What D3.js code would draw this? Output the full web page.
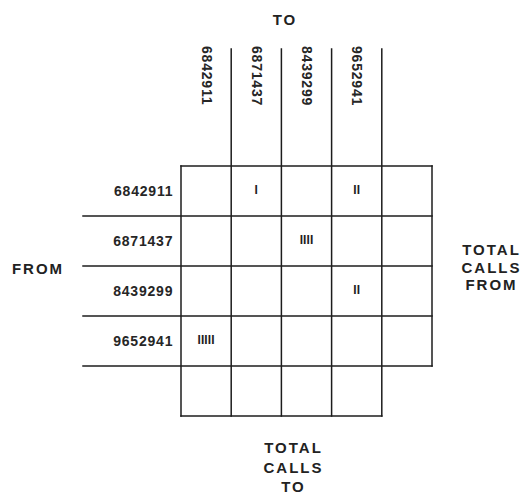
<!DOCTYPE html>
<html>
<head>
<meta charset="utf-8">
<script src="https://cdn.jsdelivr.net/npm/d3@7"></script>
<style>
  html, body { margin: 0; padding: 0; background: #fff; }
  svg { display: block; }
  text { font-family: "Liberation Sans", Arial, sans-serif; }
</style>
</head>
<body>
<div id="chart"></div>
<script>
// ---- data ----
const phones = ["6842911", "6871437", "8439299", "9652941"];
const callFrom = ["6842911", "6842911", "6871437", "8439299", "9652941"];
const callTo   = ["6871437", "9652941", "8439299", "9652941", "6842911"];
const callCount = [1, 2, 4, 2, 5];
const totalKey = "TOTAL";
const topTitle = "TO";
const leftTitle = "FROM";
const rightTitle = ["TOTAL", "CALLS", "FROM"];
const bottomTitle = ["TOTAL", "CALLS", "TO"];

// ---- layout ----
const W = 524, H = 494;
const svg = d3.select("#chart").append("svg").attr("width", W).attr("height", H);

const x = d3.scaleBand().domain([...phones, totalKey]).range([181, 432]);
const y = d3.scaleBand().domain([...phones, totalKey]).range([166, 416]);
const bw = x.bandwidth(), bh = y.bandwidth();

const stroke = "#1c1c1c", sw = 1.5;
const g = svg.append("g");
const line = (x1, y1, x2, y2) => g.append("line")
  .attr("x1", x1).attr("y1", y1).attr("x2", x2).attr("y2", y2)
  .attr("stroke", stroke).attr("stroke-width", sw).attr("stroke-linecap", "square");

const xLeft = x(phones[0]);
const xRight = x(totalKey) + bw;
const xPhonesEnd = x(totalKey);
const yTop = y(phones[0]);
const yBottom = y(totalKey) + bh;
const yPhonesEnd = y(totalKey);

// horizontal lines
line(xLeft, yTop, xRight, yTop);
phones.slice(1).forEach(p => line(83, y(p), xRight, y(p)));
line(83, yPhonesEnd, xRight, yPhonesEnd);
line(xLeft, yBottom, xPhonesEnd, yBottom);

// vertical lines
line(xLeft, yTop, xLeft, yBottom);
phones.slice(1).forEach(p => line(x(p), 49, x(p), yBottom));
line(xPhonesEnd, 49, xPhonesEnd, yBottom);
line(xRight, yTop, xRight, yPhonesEnd);

// row labels
const labelFont = 14, labelSpacing = 0.8, labelColor = "#262626";
svg.append("g").selectAll("text").data(phones).join("text")
  .attr("x", xLeft - 8.5 + labelSpacing)
  .attr("y", d => y(d) + bh / 2 + 5)
  .attr("text-anchor", "end")
  .attr("font-size", labelFont).attr("font-weight", "bold")
  .attr("letter-spacing", labelSpacing)
  .attr("fill", labelColor)
  .text(d => d);

// column labels (rotated)
svg.append("g").selectAll("text").data(phones).join("text")
  .attr("transform", d => `translate(${x(d) + bw / 2 + 0.5},46) rotate(90)`)
  .attr("text-anchor", "start")
  .attr("dy", "0.35em")
  .attr("font-size", labelFont).attr("font-weight", "bold")
  .attr("letter-spacing", labelSpacing)
  .attr("fill", labelColor)
  .text(d => d);

// tallies
const calls = callFrom.map((f, i) => ({ from: f, to: callTo[i], count: callCount[i] }));
svg.append("g").selectAll("text").data(calls).join("text")
  .attr("x", d => x(d.to) + bw / 2)
  .attr("y", d => y(d.from) + bh / 2 + 2.5)
  .attr("text-anchor", "middle")
  .attr("font-size", 12).attr("font-weight", "bold")
  .attr("letter-spacing", 0.1)
  .attr("fill", "#1e1e1e")
  .text(d => "I".repeat(d.count));

// titles
const titleFont = 15, titleSpacing = 2, titleColor = "#222";
const title = (txt, tx, ty) => svg.append("text")
  .attr("x", tx + titleSpacing / 2).attr("y", ty)
  .attr("text-anchor", "middle")
  .attr("font-size", titleFont).attr("font-weight", "bold")
  .attr("letter-spacing", titleSpacing)
  .attr("fill", titleColor)
  .text(txt);

title(topTitle, 284, 25);
title(leftTitle, 37, 274);
rightTitle.forEach((t, i) => title(t, 490.5, 255 + i * 17.7));
bottomTitle.forEach((t, i) => title(t, 292.5, 453 + i * 19.5));
</script>
</body>
</html>
